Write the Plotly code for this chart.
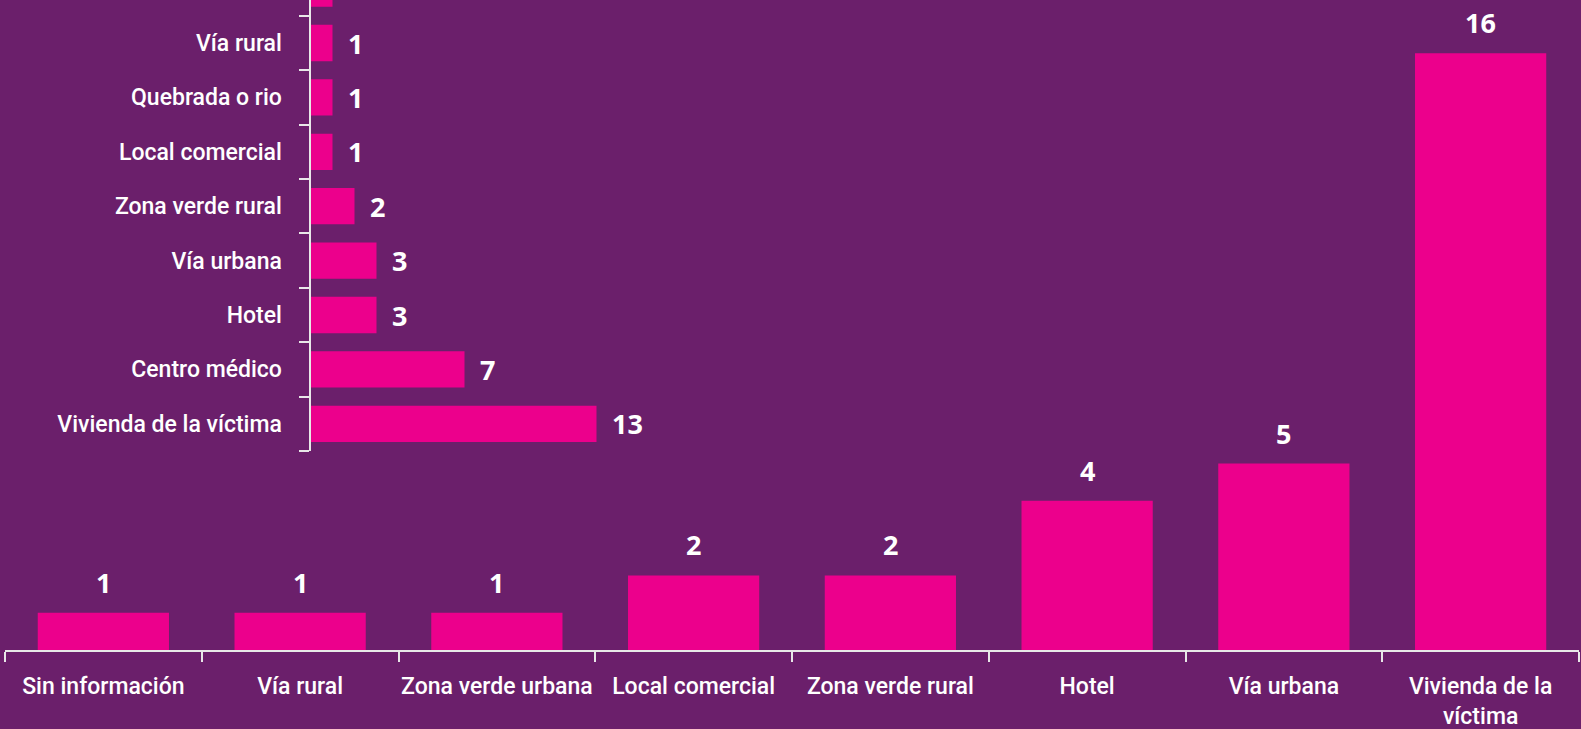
import plotly.graph_objects as go

# Bottom (vertical) chart data
bottom_categories = ["Sin información", "Vía rural", "Zona verde urbana", "Local comercial",
                     "Zona verde rural", "Hotel", "Vía urbana", "Vivienda de la<br>víctima"]
bottom_values = [1, 1, 1, 2, 2, 4, 5, 16]

# Inset (horizontal) chart data, bottom to top
inset_categories = ["Vivienda de la víctima", "Centro médico", "Hotel", "Vía urbana",
                    "Zona verde rural", "Local comercial", "Quebrada o rio", "Vía rural",
                    "Sin información"]
inset_values = [13, 7, 3, 3, 2, 1, 1, 1, 1]

BG = "#6B1F6B"
PINK = "#EC008C"
AXIS = "#E8E8E8"
LABEL_FONT = "Roboto, Noto Sans, sans-serif"
VALUE_FONT = "Open Sans"

W, H = 1581, 729

fig = go.Figure()
fig.add_trace(go.Bar(x=bottom_categories, y=bottom_values, marker_color=PINK,
                     marker_line_width=0,
                     xaxis="x", yaxis="y", hoverinfo="skip", showlegend=False))
fig.add_trace(go.Bar(y=inset_categories, x=inset_values, orientation="h", marker_color=PINK,
                     marker_line_width=0,
                     xaxis="x2", yaxis="y2", hoverinfo="skip", showlegend=False))

annotations = []
for c, v in zip(bottom_categories, bottom_values):
    annotations.append(dict(x=c, y=v, xref="x", yref="y", text=f"<b>{v}</b>",
                            showarrow=False, yanchor="bottom", yshift=10,
                            font=dict(family=VALUE_FONT, size=27, color="white")))
for c, v in zip(inset_categories, inset_values):
    annotations.append(dict(x=v, y=c, xref="x2", yref="y2", text=f"<b>{v}</b>",
                            showarrow=False, xanchor="left", xshift=13,
                            font=dict(family=VALUE_FONT, size=27, color="white")))

bottom_px = 650
unit_px = 37.3
inset_left = 310.5
inset_unit = 22.0
inset_bottom = 451

label_font = dict(family=LABEL_FONT, size=23, color="white", weight=500)

fig.update_layout(
    width=W, height=H,
    paper_bgcolor=BG, plot_bgcolor="rgba(0,0,0,0)",
    margin=dict(l=0, r=0, t=0, b=0),
    bargap=0.333,
    annotations=annotations,
    xaxis=dict(domain=[5 / W, 1579 / W], anchor="y", type="category",
               showline=True, linecolor=AXIS, linewidth=2,
               ticks="outside", tickson="boundaries", ticklen=10, tickwidth=2, tickcolor=AXIS,
               showgrid=False, zeroline=False, automargin=False, tickangle=0,
               tickfont=label_font, ticklabelstandoff=14),
    yaxis=dict(domain=[(H - bottom_px) / H, 1], anchor="x",
               range=[0, bottom_px / unit_px], visible=False, showgrid=False, zeroline=False),
    xaxis2=dict(domain=[inset_left / W, (inset_left + inset_unit * 16) / W], anchor="y2",
                range=[0, 16], visible=False, showgrid=False, zeroline=False),
    yaxis2=dict(domain=[(H - inset_bottom) / H, 1], anchor="x2", type="category",
                range=[-0.5, -0.5 + inset_bottom / 54.4],
                showline=True, linecolor=AXIS, linewidth=2,
                ticks="outside", tickson="boundaries", ticklen=10, tickwidth=2, tickcolor=AXIS,
                showgrid=False, zeroline=False, automargin=False,
                tickfont=label_font, ticklabelstandoff=22),
)

fig.write_html("out.html", config={"displayModeBar": False},
               post_script="document.body.style.margin='0';document.body.style.background='" + BG + "';")
